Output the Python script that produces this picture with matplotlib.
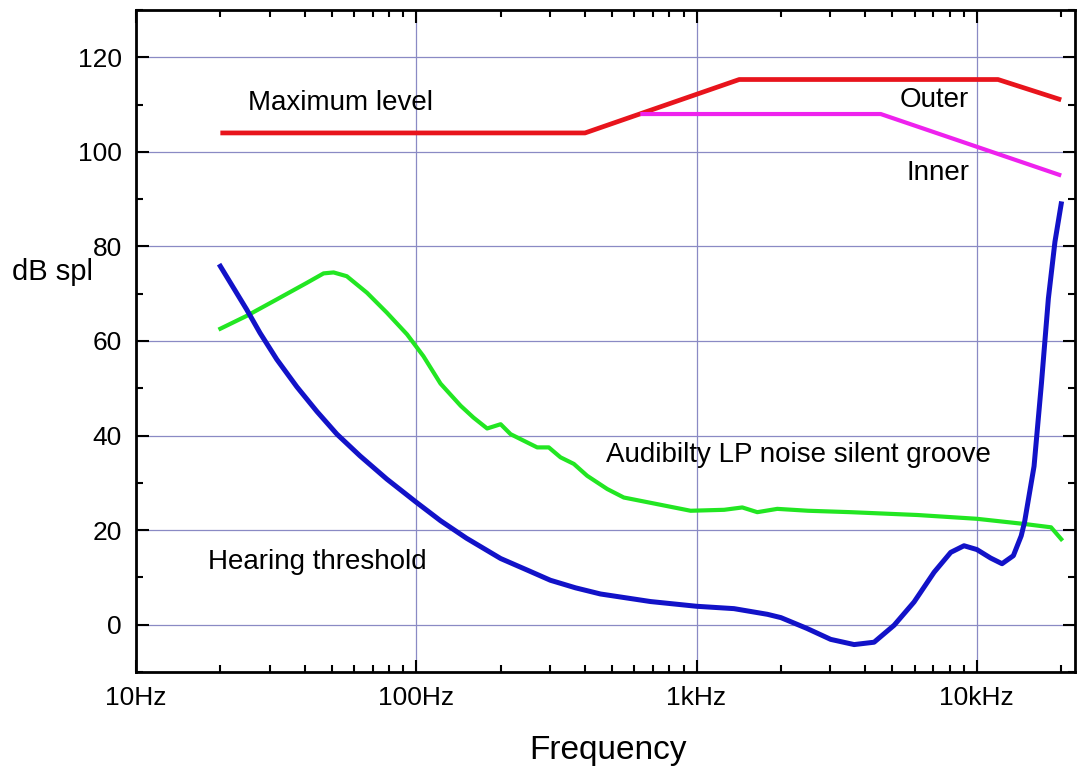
import matplotlib
matplotlib.use("Agg")
import matplotlib.pyplot as plt
from matplotlib.ticker import FixedLocator, LogLocator, NullFormatter, FixedFormatter

plt.rcParams["font.family"] = ["Liberation Sans", "DejaVu Sans"]

# Maximum level, outer groove
outer_freq = [20, 400, 1420, 11900, 20000]
outer_db = [104, 104, 115.3, 115.3, 111]

# Maximum level, inner groove
inner_freq = [630, 4540, 20000]
inner_db = [108, 108, 95]

# Hearing threshold
hear_freq = [20, 24.8, 27.7, 31.8, 37.5, 44.2, 52.1, 63, 78.5, 100, 122, 151,
             200, 250, 301, 370, 454, 685, 1000, 1360, 1790, 2000, 2480, 3010,
             3650, 4300, 5070, 5970, 7040, 8070, 9000, 10000, 11200, 12300,
             13500, 14400, 14800, 16000, 17000, 18000, 19000, 20000]
hear_db = [75.8, 66.7, 61.7, 56.1, 50.3, 45.1, 40.3, 35.7, 30.8, 25.9, 22.0,
           18.3, 14.0, 11.5, 9.4, 7.8, 6.5, 4.9, 3.9, 3.4, 2.2, 1.5, -0.8,
           -3.1, -4.2, -3.7, -0.1, 4.8, 11.1, 15.3, 16.7, 15.9, 14.1, 12.9,
           14.6, 18.8, 21.7, 33.5, 51.0, 69.0, 81.0, 89.0]

# Audibility of LP noise, silent groove
groove_freq = [20, 24.8, 31.8, 40.7, 46.7, 50.7, 56.5, 66.7, 78.5, 92.7, 106,
               122, 144, 160, 179, 200, 217, 242, 270, 297, 327, 365, 407, 480,
               550, 724, 952, 1254, 1456, 1647, 1941, 2500, 3550, 6140, 10000,
               14800, 18400, 20000]
groove_db = [62.6, 65.3, 68.8, 72.3, 74.3, 74.5, 73.7, 70.2, 66.0, 61.4, 56.8,
             51.0, 46.3, 43.8, 41.5, 42.4, 40.3, 38.9, 37.5, 37.5, 35.4, 34.0,
             31.5, 28.7, 26.9, 25.5, 24.1, 24.3, 24.8, 23.8, 24.5, 24.1, 23.8,
             23.2, 22.4, 21.3, 20.6, 18.1]

x_ticks = [10, 100, 1000, 10000]
x_labels = ["10Hz", "100Hz", "1kHz", "10kHz"]
y_ticks = [0, 20, 40, 60, 80, 100, 120]

fig = plt.figure(figsize=(10.83, 7.78), dpi=100)
ax = fig.add_axes([136 / 1083, 1 - 672 / 778, 939 / 1083, 662 / 778])

ax.plot(outer_freq, outer_db, color="#e8141c", lw=3.4, solid_capstyle="butt")
ax.plot(inner_freq, inner_db, color="#ee22ee", lw=3.0, solid_capstyle="butt")
ax.plot(groove_freq, groove_db, color="#22e622", lw=3.0, solid_joinstyle="round")
ax.plot(hear_freq, hear_db, color="#1212c8", lw=3.6, solid_joinstyle="round")

ax.set_xscale("log")
ax.set_xlim(10, 22400)
ax.set_ylim(-10, 130)

ax.xaxis.set_major_locator(FixedLocator(x_ticks))
ax.xaxis.set_major_formatter(FixedFormatter(x_labels))
ax.xaxis.set_minor_locator(LogLocator(base=10, subs=range(2, 10)))
ax.xaxis.set_minor_formatter(NullFormatter())
ax.yaxis.set_major_locator(FixedLocator(y_ticks))
ax.yaxis.set_minor_locator(FixedLocator([-10, 10, 30, 50, 70, 90, 110, 130]))

ax.grid(True, which="major", color="#8a8ac4", lw=0.9)
ax.set_axisbelow(True)

ax.tick_params(which="both", direction="in", top=True, right=True, width=1.5,
               labelsize=19, pad=10)
ax.tick_params(which="major", length=9)
ax.tick_params(which="minor", length=5)
for s in ax.spines.values():
    s.set_linewidth(2)

ax.set_xlabel("Frequency", fontsize=24, va="center")
ax.xaxis.set_label_coords(0.503, -0.118)
ax.set_ylabel("dB spl", fontsize=21, rotation=0, ha="left", va="center")
ax.yaxis.set_label_coords(-0.132, 0.604)

def label(px, py, s):
    fig.text(px / 1083, 1 - py / 778, s, fontsize=20, ha="center", va="center")

label(341, 103, "Maximum level")
label(934, 100, "Outer")
label(938, 173, "Inner")
label(798, 455, "Audibilty LP noise silent groove")
label(317, 562, "Hearing threshold")

fig.savefig("out.png", dpi=100)
